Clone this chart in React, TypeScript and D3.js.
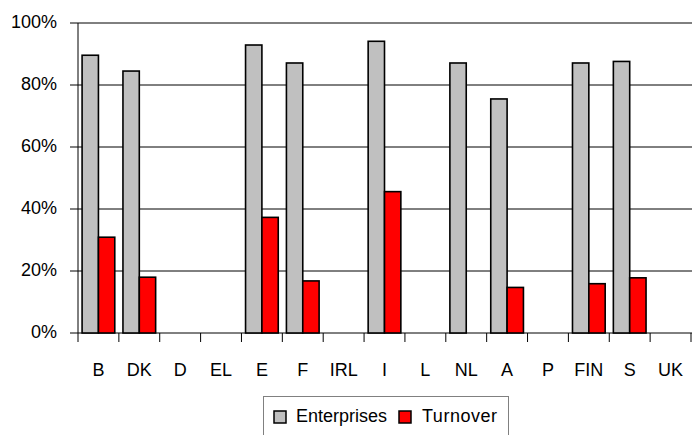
import React from "react";
import * as d3 from "d3";

const categories = ["B", "DK", "D", "EL", "E", "F", "IRL", "I", "L", "NL", "A", "P", "FIN", "S", "UK"];
const enterprises: (number | null)[] = [89.6, 84.5, null, null, 92.9, 87.1, null, 94.1, null, 87.1, 75.5, null, 87.1, 87.6, null];
const turnover: (number | null)[] = [30.9, 18.0, null, null, 37.3, 16.8, null, 45.6, null, null, 14.7, null, 15.9, 17.8, null];
const seriesNames = ["Enterprises", "Turnover"];
const seriesColors = ["#C0C0C0", "#FF0000"];
const yTicks = [0, 20, 40, 60, 80, 100];

const W = 692;
const H = 435;
const FONT = "'Liberation Sans', Arial, sans-serif";

export default function App() {
  const x = d3.scaleBand<string>().domain(categories).range([78, 691]).padding(0);
  const bw = x.bandwidth();
  const x1 = d3.scaleBand<string>().domain(seriesNames).range([bw * 0.1, bw * 0.9]).padding(0);
  const y = d3.scaleLinear().domain([0, 100]).range([333, 23]);
  const seriesData = [enterprises, turnover];

  return (
    <svg width={W} height={H} style={{ position: "absolute", left: 0, top: 0, background: "#fff" }}>
      {yTicks.map((t) => (
        <g key={t}>
          <line x1={70} x2={W} y1={y(t)} y2={y(t)} stroke="#000" strokeWidth={1} />
          <text x={57} y={y(t)} textAnchor="end" dominantBaseline="middle" fontFamily={FONT} fontSize={18} fill="#000">
            {t}%
          </text>
        </g>
      ))}
      <line x1={78} x2={78} y1={y(100)} y2={y(0) + 9} stroke="#000" strokeWidth={1} />
      {categories.map((c) => (
        <line key={"t" + c} x1={(x(c) as number) + bw} x2={(x(c) as number) + bw} y1={y(0)} y2={y(0) + 9} stroke="#000" strokeWidth={1} />
      ))}
      {seriesData.map((arr, si) =>
        arr.map((v, i) =>
          v == null ? null : (
            <rect
              key={si + "-" + i}
              x={(x(categories[i]) as number) + (x1(seriesNames[si]) as number)}
              y={y(v)}
              width={x1.bandwidth()}
              height={y(0) - y(v)}
              fill={seriesColors[si]}
              stroke="#000"
              strokeWidth={1.6}
            />
          )
        )
      )}
      {categories.map((c) => (
        <text key={"l" + c} x={(x(c) as number) + bw / 2} y={371} textAnchor="middle" dominantBaseline="middle" fontFamily={FONT} fontSize={18} fill="#000">
          {c}
        </text>
      ))}
      <rect x={263.5} y={396.5} width={245} height={45} fill="#fff" stroke="#808080" strokeWidth={1} />
      <rect x={274} y={411} width={12} height={12} fill={seriesColors[0]} stroke="#000" strokeWidth={1.5} />
      <text x={296} y={417} dominantBaseline="middle" fontFamily={FONT} fontSize={18} fill="#000">{seriesNames[0]}</text>
      <rect x={399} y={411} width={12} height={12} fill={seriesColors[1]} stroke="#000" strokeWidth={1.5} />
      <text x={422} y={417} dominantBaseline="middle" fontFamily={FONT} fontSize={18} fill="#000" textLength={75}>{seriesNames[1]}</text>
    </svg>
  );
}
